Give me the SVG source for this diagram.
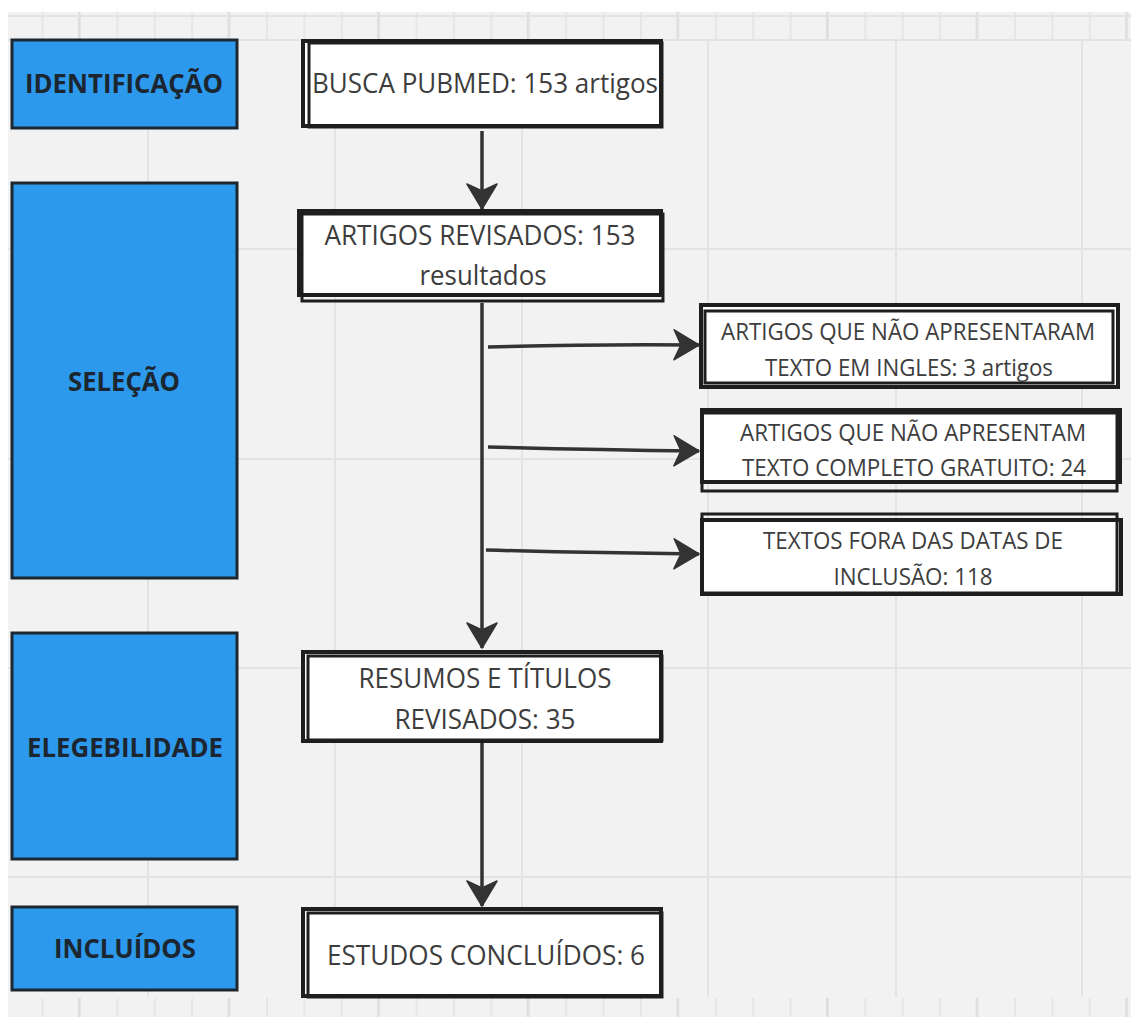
<svg xmlns="http://www.w3.org/2000/svg" width="1131" height="1017" viewBox="0 0 1131 1017">
<style>
.grid{stroke:#e3e3e3;stroke-width:2;fill:none}
.phase rect{fill:#2d99ec;stroke:#1d2730;stroke-width:3}
.phase text{font-family:"Open Sans","Liberation Sans",sans-serif;font-weight:bold;font-size:27px;fill:#1c2630;text-anchor:middle}
.box .a{fill:#ffffff;stroke:#1e1e1e;stroke-width:4}
.box .b{fill:none;stroke:#1e1e1e;stroke-width:3}
.box text{font-family:"Open Sans","Liberation Sans",sans-serif;font-size:27px;fill:#3d3d3d;text-anchor:middle}
.box text.s{font-size:23px}
.conn path{stroke:#333333;stroke-width:3.5;fill:none;marker-end:url(#ah)}
</style>
<defs>
<marker id="ah" markerUnits="userSpaceOnUse" markerWidth="30" markerHeight="34" refX="26" refY="16" orient="auto" viewBox="0 0 30 34">
<path d="M1,1 L26,16 L1,31 L8,16 Z" fill="#333333" stroke="#333333" stroke-width="1.5" stroke-linejoin="round"/>
</marker>
<pattern id="minor" patternUnits="userSpaceOnUse" x="4.2" y="0" width="37.4" height="40">
<line x1="1" y1="0" x2="1" y2="40" stroke="#e6e6e6" stroke-width="2"/>
</pattern>
<pattern id="major" patternUnits="userSpaceOnUse" x="78" y="0" width="149.6" height="40">
<line x1="1" y1="0" x2="1" y2="40" stroke="#dedede" stroke-width="2.5"/>
</pattern>
</defs>
<rect x="0" y="0" width="1131" height="1017" fill="#ffffff"/>
<rect x="8" y="12" width="1123" height="1005" fill="#f2f2f2"/>
<g id="grid">
<rect x="8" y="12" width="1123" height="28" fill="url(#minor)"/>
<rect x="8" y="12" width="1123" height="28" fill="url(#major)"/>
<rect x="8" y="998" width="1123" height="19" fill="url(#minor)"/>
<rect x="8" y="998" width="1123" height="19" fill="url(#major)"/>
<line class="grid" x1="8" y1="16" x2="1131" y2="16"/>
<line class="grid" x1="8" y1="40" x2="1131" y2="40"/>
<line class="grid" x1="8" y1="249" x2="1131" y2="249"/>
<line class="grid" x1="8" y1="459" x2="1131" y2="459"/>
<line class="grid" x1="8" y1="668" x2="1131" y2="668"/>
<line class="grid" x1="8" y1="877" x2="1131" y2="877"/>
<line class="grid" x1="148" y1="40" x2="148" y2="997"/>
<line class="grid" x1="335" y1="40" x2="335" y2="997"/>
<line class="grid" x1="522" y1="40" x2="522" y2="997"/>
<line class="grid" x1="708" y1="40" x2="708" y2="997"/>
<line class="grid" x1="896" y1="40" x2="896" y2="997"/>
<line class="grid" x1="1082" y1="40" x2="1082" y2="997"/>
</g>
<g id="connectors" class="conn">
<path d="M482,131 L482,209"/>
<path d="M482,303 L482,648"/>
<path d="M482,743 L482,906"/>
<path d="M488,347 Q590,344 699,345"/>
<path d="M488,447 Q590,450 699,451"/>
<path d="M486,550 Q590,553 699,554"/>
</g>
<g id="phase-identificacao" class="phase">
<rect x="12" y="40" width="225" height="88"/>
<text x="124" y="93" textLength="198" lengthAdjust="spacingAndGlyphs">IDENTIFICAÇÃO</text>
</g>
<g id="phase-selecao" class="phase">
<rect x="12" y="183" width="225" height="395"/>
<text x="124" y="391" textLength="112" lengthAdjust="spacingAndGlyphs">SELEÇÃO</text>
</g>
<g id="phase-elegebilidade" class="phase">
<rect x="12" y="633" width="225" height="226"/>
<text x="125" y="757" textLength="196" lengthAdjust="spacingAndGlyphs">ELEGEBILIDADE</text>
</g>
<g id="phase-incluidos" class="phase">
<rect x="12" y="907" width="225" height="83"/>
<text x="125" y="958" textLength="142" lengthAdjust="spacingAndGlyphs">INCLUÍDOS</text>
</g>
<g id="busca" class="box">
<rect class="a" x="303" y="41" width="358" height="85"/>
<rect class="b" x="309" y="43" width="353" height="84"/>
<text x="485" y="93" textLength="346" lengthAdjust="spacingAndGlyphs">BUSCA PUBMED: 153 artigos</text>
</g>
<g id="revisados" class="box">
<rect class="a" x="299" y="211" width="362" height="84"/>
<rect class="b" x="302" y="214" width="361" height="87"/>
<text x="480" y="245" textLength="311" lengthAdjust="spacingAndGlyphs">ARTIGOS REVISADOS: 153</text>
<text x="483" y="285" textLength="127" lengthAdjust="spacingAndGlyphs">resultados</text>
</g>
<g id="excl-ingles" class="box">
<rect class="a" x="701" y="305" width="417" height="82"/>
<rect class="b" x="705" y="311" width="408" height="72"/>
<text class="s" x="908" y="340" textLength="374" lengthAdjust="spacingAndGlyphs">ARTIGOS QUE NÃO APRESENTARAM</text>
<text class="s" x="909" y="376" textLength="288" lengthAdjust="spacingAndGlyphs">TEXTO EM INGLES: 3 artigos</text>
</g>
<g id="excl-gratuito" class="box">
<rect class="a" x="702" y="410" width="418" height="72"/>
<rect class="b" x="702" y="413" width="415" height="78"/>
<text class="s" x="913" y="441" textLength="346" lengthAdjust="spacingAndGlyphs">ARTIGOS QUE NÃO APRESENTAM</text>
<text class="s" x="914" y="476" textLength="344" lengthAdjust="spacingAndGlyphs">TEXTO COMPLETO GRATUITO: 24</text>
</g>
<g id="excl-datas" class="box">
<rect class="a" x="702" y="520" width="419" height="74"/>
<rect class="b" x="702" y="514" width="415" height="79"/>
<text class="s" x="913" y="549" textLength="300" lengthAdjust="spacingAndGlyphs">TEXTOS FORA DAS DATAS DE</text>
<text class="s" x="913" y="585" textLength="159" lengthAdjust="spacingAndGlyphs">INCLUSÃO: 118</text>
</g>
<g id="resumos" class="box">
<rect class="a" x="303" y="652" width="358" height="89"/>
<rect class="b" x="308" y="656" width="354" height="84"/>
<text x="485" y="688" textLength="253" lengthAdjust="spacingAndGlyphs">RESUMOS E TÍTULOS</text>
<text x="485" y="729" textLength="181" lengthAdjust="spacingAndGlyphs">REVISADOS: 35</text>
</g>
<g id="estudos" class="box">
<rect class="a" x="303" y="909" width="358" height="87"/>
<rect class="b" x="308" y="913" width="354" height="84"/>
<text x="486" y="965" textLength="318" lengthAdjust="spacingAndGlyphs">ESTUDOS CONCLUÍDOS: 6</text>
</g>
</svg>
